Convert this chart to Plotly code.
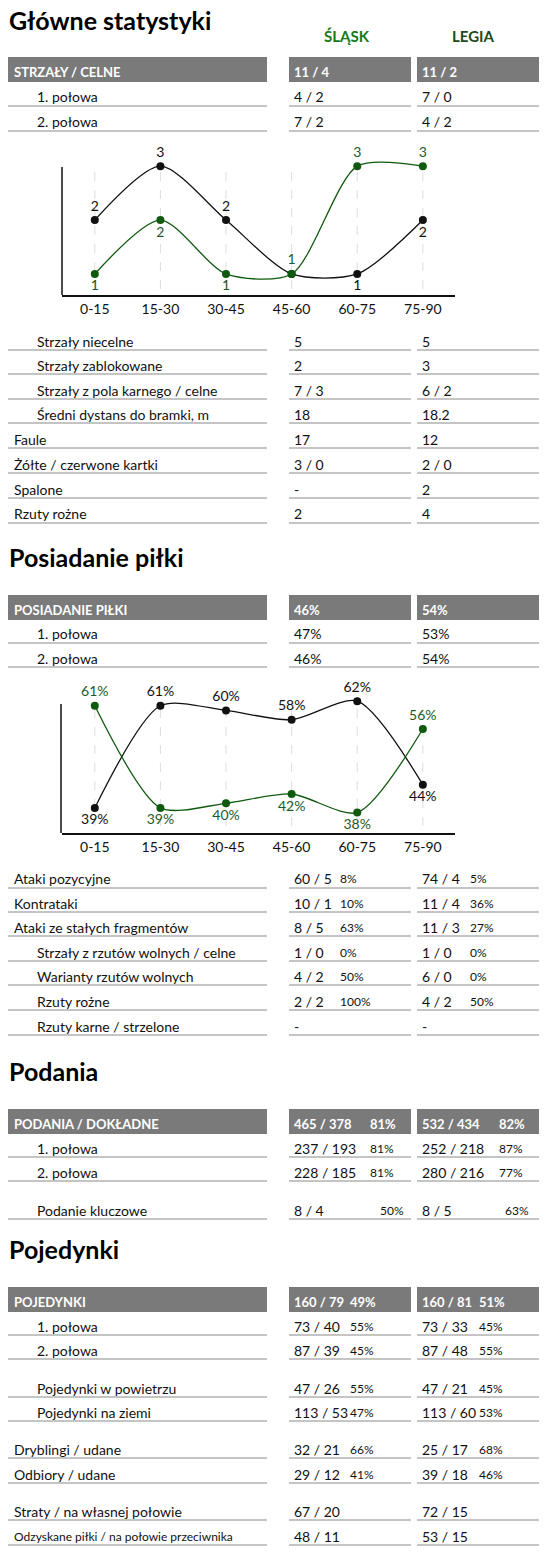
import plotly.graph_objects as go

W, H = 554, 1558
OFF = 8  # default page body margin
FW, FH = W - OFF, H - OFF
periods = ["0-15", "15-30", "30-45", "45-60", "60-75", "75-90"]
shots_slask = [1, 2, 1, 1, 3, 3]
shots_legia = [2, 3, 2, 1, 1, 2]
poss_slask = [61, 39, 40, 42, 38, 56]
poss_legia = [39, 61, 60, 58, 62, 44]

team_names = ["ŚLĄSK", "LEGIA"]
titles = ["Główne statystyki", "Posiadanie piłki", "Podania", "Pojedynki"]

# (label, slask value, slask pct, legia value, legia pct, level) level: 0 header,1 main,2 sub
sec1 = [("STRZAŁY / CELNE", "11 / 4", "", "11 / 2", "", 0),
        ("1. połowa", "4 / 2", "", "7 / 0", "", 2),
        ("2. połowa", "7 / 2", "", "4 / 2", "", 2)]
sec1b = [("Strzały niecelne", "5", "", "5", "", 2),
         ("Strzały zablokowane", "2", "", "3", "", 2),
         ("Strzały z pola karnego / celne", "7 / 3", "", "6 / 2", "", 2),
         ("Średni dystans do bramki, m", "18", "", "18.2", "", 2),
         ("Faule", "17", "", "12", "", 1),
         ("Żółte / czerwone kartki", "3 / 0", "", "2 / 0", "", 1),
         ("Spalone", "-", "", "2", "", 1),
         ("Rzuty rożne", "2", "", "4", "", 1)]
sec2 = [("POSIADANIE PIŁKI", "46%", "", "54%", "", 0),
        ("1. połowa", "47%", "", "53%", "", 2),
        ("2. połowa", "46%", "", "54%", "", 2)]
sec2b = [("Ataki pozycyjne", "60 / 5", "8%", "74 / 4", "5%", 1),
         ("Kontrataki", "10 / 1", "10%", "11 / 4", "36%", 1),
         ("Ataki ze stałych fragmentów", "8 / 5", "63%", "11 / 3", "27%", 1),
         ("Strzały z rzutów wolnych / celne", "1 / 0", "0%", "1 / 0", "0%", 2),
         ("Warianty rzutów wolnych", "4 / 2", "50%", "6 / 0", "0%", 2),
         ("Rzuty rożne", "2 / 2", "100%", "4 / 2", "50%", 2),
         ("Rzuty karne / strzelone", "-", "", "-", "", 2)]
sec3 = [("PODANIA / DOKŁADNE", "465 / 378", "81%", "532 / 434", "82%", 0),
        ("1. połowa", "237 / 193", "81%", "252 / 218", "87%", 2),
        ("2. połowa", "228 / 185", "81%", "280 / 216", "77%", 2),
        ("Podanie kluczowe", "8 / 4", "50%", "8 / 5", "63%", 2)]
sec4 = [("POJEDYNKI", "160 / 79", "49%", "160 / 81", "51%", 0),
        ("1. połowa", "73 / 40", "55%", "73 / 33", "45%", 2),
        ("2. połowa", "87 / 39", "45%", "87 / 48", "55%", 2),
        ("Pojedynki w powietrzu", "47 / 26", "55%", "47 / 21", "45%", 2),
        ("Pojedynki na ziemi", "113 / 53", "47%", "113 / 60", "53%", 2),
        ("Dryblingi / udane", "32 / 21", "66%", "25 / 17", "68%", 1),
        ("Odbiory / udane", "29 / 12", "41%", "39 / 18", "46%", 1),
        ("Straty / na własnej połowie", "67 / 20", "", "72 / 15", "", 1),
        ("Odzyskane piłki / na połowie przeciwnika", "48 / 11", "", "53 / 15", "", 1)]

# layout (pixel positions)
row_blocks = [
    (sec1, [72, 97, 122], (None, None)),
    (sec1b, [341, 365, 390, 414, 439, 464, 489, 514], (None, None)),
    (sec2, [610, 634, 658], (None, None)),
    (sec2b, [879, 903, 927, 952, 976, 1001, 1026], (338, 468)),
    (sec3, [1124, 1148, 1172, 1210], (368, 497)),
    (sec4, [1302, 1326, 1350, 1388, 1412, 1449, 1474, 1511, 1536], (348, 477)),
]
title_y = [20, 557, 1071, 1249]
FONT = "Lato"
GREEN = "#0f5a0f"
cols = [(8, 267), (289, 411), (417, 539)]

def px(x): return (x - OFF) / FW
def py(y): return 1 - (y - OFF) / FH

fig = go.Figure()
shapes, ann = [], []

def text(x, y, s, size=14, color="#111", bold=False, anchor="left"):
    ann.append(dict(x=px(x), y=py(y), xref="paper", yref="paper", text=("<b>%s</b>" % s) if bold else s,
                    showarrow=False, xanchor=anchor, yanchor="middle",
                    font=dict(family=FONT, size=size, color=color)))

for t, y in zip(titles, title_y):
    text(7, y, t, size=25, bold=True, color="#000")
text(347, 36, team_names[0], size=15, bold=True, color="#157a15", anchor="center")
text(473, 36, team_names[1], size=15, bold=True, color="#1b4a1b", anchor="center")

for rows, ys, (p1, p2) in row_blocks:
    for (lab, v1, c1, v2, c2, lvl), y in zip(rows, ys):
        if lvl == 0:
            for a, b in cols:
                shapes.append(dict(type="rect", xref="paper", yref="paper", x0=px(a), x1=px(b),
                                   y0=py(y - 15), y1=py(y + 10), fillcolor="#7a7a7a", line_width=0))
            text(12, y, lab, 13, "white", True)
            text(292, y, v1, 13, "white", True)
            text(420, y, v2, 13, "white", True)
            if c1:
                text(p1 if p1 else 368, y, c1, 13, "white", True)
                text(p2 if p2 else 497, y, c2, 13, "white", True)
        else:
            for a, b in cols:
                shapes.append(dict(type="line", xref="paper", yref="paper", x0=px(a), x1=px(b),
                                   y0=py(y + 9), y1=py(y + 9), line=dict(color="#8a8a8a", width=1)))
            size = 12 if len(lab) > 35 else 14
            text(35 if lvl == 2 else 12, y, lab, size)
            text(292, y, v1)
            text(420, y, v2)
            if c1:
                off1, off2 = p1, p2
                if lab == "Podanie kluczowe":
                    off1, off2 = 378, 503
                text(off1, y, c1, 12)
                text(off2, y, c2, 12)

def positions(a, b, tie_show):
    pos, txt = [], []
    for v, o in zip(a, b):
        if v > o:
            pos.append("top center"); txt.append(v)
        elif v < o:
            pos.append("bottom center"); txt.append(v)
        else:
            pos.append("top center"); txt.append(v if tie_show else "")
    return pos, txt

def add_chart(xa, ya, s, l, suffix):
    for vals, other, col, tcol, tie in [(l, s, "#111", "#111", False), (s, l, GREEN, "#1e5a2a", True)]:
        pos, txt = positions(vals, other, tie)
        fig.add_trace(go.Scatter(x=list(range(len(periods))), y=vals, mode="lines+markers+text",
                                 line=dict(color=col, width=1.3, shape="spline", smoothing=0.75),
                                 marker=dict(color=col, size=8),
                                 text=[("%s%s" % (t, suffix)) if t != "" else "" for t in txt],
                                 textposition=pos, textfont=dict(family=FONT, size=14, color=tcol),
                                 xaxis=xa, yaxis=ya, showlegend=False, cliponaxis=False))

add_chart("x", "y", shots_slask, shots_legia, "")
add_chart("x2", "y2", poss_slask, poss_legia, "%")

# y-axis lines and dashed vertical guides
for xref, x0, ytop, ybot in [("x", 62, 167, 295), ("x2", 61, 704, 833)]:
    shapes.append(dict(type="line", xref="paper", yref="paper", x0=px(x0), x1=px(x0),
                       y0=py(ytop), y1=py(ybot), line=dict(color="#111", width=1.5)))
    for i in range(len(periods)):
        shapes.append(dict(type="line", xref=xref, yref="paper", x0=i, x1=i, y0=py(ytop + 5), y1=py(ybot),
                           line=dict(color="#dddddd", width=1, dash="dash"), layer="below"))

def xax(anchor):
    return dict(domain=[px(62), px(455)], range=[-0.5, 5.49], tickvals=list(range(6)), ticktext=periods,
                showgrid=False, showline=True, linecolor="#111", anchor=anchor,
                linewidth=1.5, zeroline=False, ticks="", tickfont=dict(family=FONT, size=14, color="#111"),
                fixedrange=True)

fig.update_layout(
    width=FW, height=FH, margin=dict(l=0, r=0, t=0, b=0), paper_bgcolor="white", plot_bgcolor="rgba(0,0,0,0)",
    xaxis=xax("y"),
    yaxis=dict(domain=[py(295), py(150)], range=[0.61, 3.3], showgrid=False, showline=False,
               showticklabels=False, zeroline=False, anchor="x"),
    xaxis2=xax("y2"),
    yaxis2=dict(domain=[py(833), py(690)], range=[33.6, 64.4], showgrid=False, showline=False,
                showticklabels=False, zeroline=False, anchor="x2"),
    shapes=shapes, annotations=ann,
)
fig.write_html("out.html")
